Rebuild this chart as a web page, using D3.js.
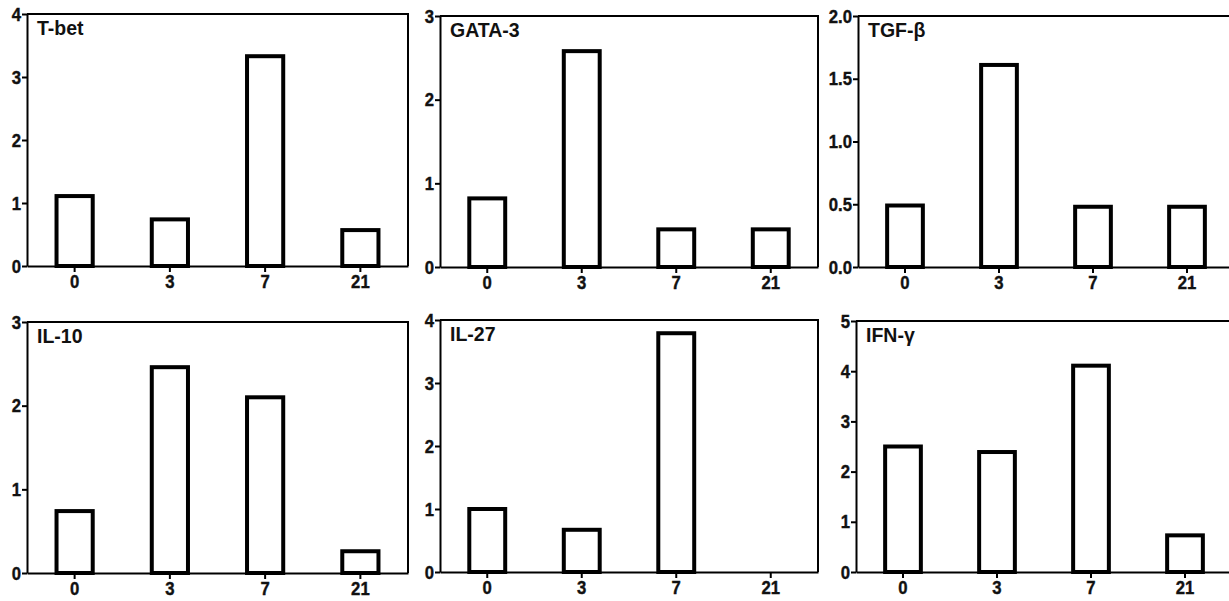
<!DOCTYPE html>
<html><head><meta charset="utf-8">
<script src="https://cdn.jsdelivr.net/npm/d3@7"></script>
<style>
body{margin:0;background:#fff;}
svg text{font-family:"Liberation Sans",Arial,sans-serif;font-weight:bold;fill:#111;}
</style></head>
<body><svg id="c" width="1229" height="601"></svg>
<script>
const days = ["0","3","7","21"];
const titles = ["T-bet","GATA-3","TGF-β","IL-10","IL-27","IFN-γ"];
const tbet  = [1.11, 0.74, 3.33, 0.57];
const gata3 = [0.82, 2.58, 0.45, 0.45];
const tgfb  = [0.49, 1.61, 0.48, 0.48];
const il10  = [0.74, 2.46, 2.10, 0.26];
const il27  = [1.00, 0.67, 3.79, 0.00];
const ifng  = [2.50, 2.39, 4.11, 0.73];
const yMax  = [4, 3, 2.0, 3, 4, 5];
const yTicks = [[0,1,2,3,4],[0,1,2,3],[0,0.5,1,1.5,2],[0,1,2,3],[0,1,2,3,4],[0,1,2,3,4,5]];
const yFmt = ["d","d",".1f","d","d","d"];
const series = [tbet, gata3, tgfb, il10, il27, ifng];

// layout
const panels = [
  {x0:27, x1:408, y0:14, y1:266},
  {x0:440, x1:818, y0:16, y1:267},
  {x0:858, x1:1234, y0:16, y1:267},
  {x0:27, x1:408, y0:322, y1:573},
  {x0:440, x1:818, y0:320, y1:572},
  {x0:856, x1:1232, y0:321, y1:572}
];
const svg = d3.select("#c");
const sx = 0.88; // horizontal condensation of tick glyphs

panels.forEach((p,i)=>{
  const g = svg.append("g");
  const x = d3.scaleBand().domain(days).range([p.x0,p.x1]).paddingInner(0.62).paddingOuter(0.31);
  const y = d3.scaleLinear().domain([0,yMax[i]]).range([p.y1,p.y0]);
  const data = days.map((d,k)=>({d, v:series[i][k]}));
  g.selectAll("rect.bar").data(data.filter(e=>e.v>0)).join("rect")
    .attr("x",e=>x(e.d)).attr("width",x.bandwidth())
    .attr("y",e=>y(e.v)).attr("height",e=>y(0)-y(e.v))
    .attr("fill","#fff").attr("stroke","#000").attr("stroke-width",4);
  g.append("path").attr("d",`M${p.x0},${p.y0}H${p.x1}V${p.y1}`)
    .attr("fill","none").attr("stroke","#000").attr("stroke-width",2);
  const ya = g.append("g").attr("transform",`translate(${p.x0},0)`)
    .call(d3.axisLeft(y).tickValues(yTicks[i]).tickFormat(d3.format(yFmt[i])).tickSize(5).tickSizeOuter(0).tickPadding(1));
  ya.select(".domain").attr("stroke","#000").attr("stroke-width",2);
  ya.selectAll(".tick line").attr("stroke","#000").attr("stroke-width",2);
  ya.selectAll(".tick text").style("font-size","19px").attr("fill","#111")
    .attr("stroke","#111").attr("stroke-width",0.4)
    .attr("transform",function(){const xx=+d3.select(this).attr("x");return `translate(${xx*(1-sx)},0) scale(${sx},1)`;});
  const xa = g.append("g").attr("transform",`translate(0,${p.y1})`)
    .call(d3.axisBottom(x).tickSize(6).tickSizeOuter(0).tickPadding(3));
  xa.select(".domain").attr("stroke","#000").attr("stroke-width",2);
  xa.selectAll(".tick line").attr("stroke","#000").attr("stroke-width",2);
  xa.selectAll(".tick text").style("font-size","19px").attr("fill","#111")
    .attr("stroke","#111").attr("stroke-width",0.4)
    .attr("transform",`scale(${sx},1)`);
  g.append("text").attr("x",p.x0+10).attr("y",p.y0+21).style("font-size","19.5px").text(titles[i]);
});
</script></body></html>
